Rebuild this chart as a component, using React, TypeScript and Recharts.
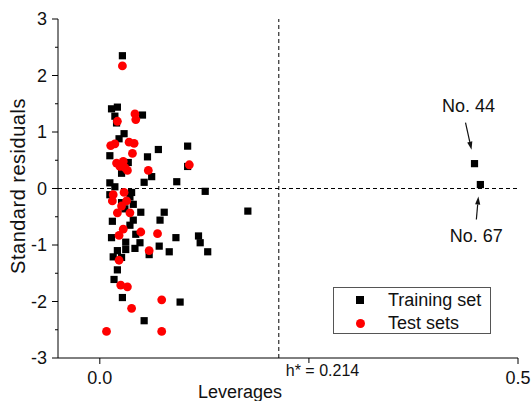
import { ScatterChart, Scatter, XAxis, YAxis, ReferenceLine, ReferenceDot } from 'recharts'

document.body.style.margin = '0'
document.body.style.overflow = 'hidden'

const FONT = "'Liberation Sans', Arial, sans-serif"

// [leverage, standard residual]
const TRAINING_SET: [number, number][] = [
  [0.027, 2.35], [0.014, 1.41], [0.021, 1.44], [0.018, 1.28], [0.02, 1.16],
  [0.051, 1.3], [0.029, 0.97], [0.023, 0.88], [0.07, 0.69], [0.105, 0.75],
  [0.012, 0.58], [0.057, 0.56], [0.034, 0.46], [0.026, 0.27], [0.105, 0.39],
  [0.062, 0.21], [0.053, 0.11], [0.092, 0.12], [0.012, 0.1], [0.018, 0.03],
  [0.126, -0.05], [0.177, -0.4], [0.012, -0.11], [0.038, -0.07], [0.036, -0.15],
  [0.026, -0.25], [0.04, -0.28], [0.03, -0.36], [0.049, -0.42], [0.077, -0.42],
  [0.04, -0.56], [0.072, -0.56], [0.015, -0.58], [0.036, -0.65], [0.014, -0.87],
  [0.043, -0.81], [0.091, -0.87], [0.118, -0.84], [0.031, -0.95], [0.048, -0.96],
  [0.12, -0.96], [0.071, -1.02], [0.042, -1.06], [0.031, -1.08], [0.021, -1.1],
  [0.083, -1.12], [0.129, -1.12], [0.059, -1.17], [0.016, -1.21], [0.026, -1.22],
  [0.021, -1.44], [0.017, -1.61], [0.027, -1.93], [0.096, -2.01], [0.053, -2.34],
  [0.448, 0.44], [0.455, 0.07],
]

const TEST_SETS: [number, number][] = [
  [0.027, 2.17], [0.042, 1.32], [0.043, 1.22], [0.021, 1.19], [0.013, 0.76],
  [0.018, 0.79], [0.035, 0.82], [0.041, 0.8], [0.039, 0.62], [0.02, 0.45],
  [0.028, 0.48], [0.024, 0.39], [0.03, 0.37], [0.033, 0.32], [0.058, 0.32],
  [0.107, 0.42], [0.016, -0.11], [0.029, -0.07], [0.015, -0.22], [0.032, -0.22],
  [0.026, -0.31], [0.021, -0.43], [0.036, -0.43], [0.028, -0.72], [0.023, -0.83],
  [0.049, -0.77], [0.069, -0.8], [0.059, -1.1], [0.023, -1.27], [0.025, -1.71],
  [0.033, -1.74], [0.074, -1.97], [0.038, -2.12], [0.008, -2.53], [0.074, -2.53],
]

const H_STAR = 0.214
const NO_44: [number, number] = [0.448, 0.44]
const NO_67: [number, number] = [0.455, 0.07]

const X_DOMAIN = [-0.05, 0.5]
const Y_DOMAIN = [-3, 3]
const X_TICKS = [0, 0.25, 0.5]
const X_LABELED = [0, 0.5]
const Y_TICKS = [-3, -2.5, -2, -1.5, -1, -0.5, 0, 0.5, 1, 1.5, 2, 2.5, 3]

const SERIES = [
  { name: 'Training set', color: '#000000', data: TRAINING_SET, kind: 'square' },
  { name: 'Test sets', color: '#ff0000', data: TEST_SETS, kind: 'circle' },
]

const toPoints = (rows: [number, number][]) => rows.map(([h, r]) => ({ h, r }))

function Square(props: any) {
  const { cx, cy, fill } = props
  return <rect x={cx - 3.6} y={cy - 3.6} width={7.2} height={7.2} fill={fill} />
}

function Dot(props: any) {
  const { cx, cy, fill } = props
  return <circle cx={cx} cy={cy} r={4.4} fill={fill} />
}

function LeftTick({ x, y, payload }: any) {
  const v = payload.value
  const major = Number.isInteger(v)
  return (
    <g>
      <line x1={x} x2={x - (major ? 6 : 3)} y1={y} y2={y} stroke="#000" />
      {major && (
        <text x={x - 11} y={y} dy="0.36em" textAnchor="end" fontSize={18} fontFamily={FONT} fill="#111">
          {v}
        </text>
      )}
    </g>
  )
}

function RightTick({ x, y }: any) {
  return <line x1={x} x2={x - 5} y1={y} y2={y} stroke="#000" />
}

function TopTick({ x, y }: any) {
  return <line x1={x} x2={x} y1={y} y2={y + 5} stroke="#000" />
}

function BottomTick({ x, y, payload }: any) {
  const v = payload.value
  const labeled = X_LABELED.includes(v)
  return (
    <g>
      <line x1={x} x2={x} y1={y} y2={y + (labeled ? 6 : 5)} stroke="#000" />
      {labeled && (
        <text x={x} y={y + 13} dy="0.71em" textAnchor="middle" fontSize={18} fontFamily={FONT} fill="#111">
          {v.toFixed(1)}
        </text>
      )}
    </g>
  )
}

function arrow(x1: number, y1: number, x2: number, y2: number) {
  const a = Math.atan2(y2 - y1, x2 - x1)
  const len = 8
  const w = 2.6
  const bx = x2 - len * Math.cos(a)
  const by = y2 - len * Math.sin(a)
  const px = -Math.sin(a) * w
  const py = Math.cos(a) * w
  return (
    <g>
      <line x1={x1} y1={y1} x2={bx} y2={by} stroke="#111" strokeWidth={1.2} />
      <polygon points={`${x2},${y2} ${bx + px},${by + py} ${bx - px},${by - py}`} fill="#111" />
    </g>
  )
}

function Note44({ cx, cy }: any) {
  return (
    <g>
      <text x={cx - 6} y={cy - 52} textAnchor="middle" fontSize={18} fontFamily={FONT} fill="#111">No. 44</text>
      {arrow(cx - 9, cy - 41, cx - 3, cy - 14)}
    </g>
  )
}

function Note67({ cx, cy }: any) {
  return (
    <g>
      <text x={cx - 4} y={cy + 57} textAnchor="middle" fontSize={18} fontFamily={FONT} fill="#111">No. 67</text>
      {arrow(cx - 4, cy + 35, cx - 2, cy + 12)}
    </g>
  )
}

function HStarLabel({ viewBox }: any) {
  return (
    <text x={viewBox.x + 7} y={viewBox.y + viewBox.height + 18} fontSize={16} fontFamily={FONT} fill="#111">
      h* = {H_STAR}
    </text>
  )
}

export default function App() {
  return (
    <div style={{ position: 'relative', width: 531, height: 401, background: '#fff' }}>
      <ScatterChart width={531} height={401} margin={{ top: 19, right: 13, bottom: 0, left: 0 }}>
        <XAxis
          xAxisId="b"
          type="number"
          dataKey="h"
          domain={X_DOMAIN}
          ticks={X_TICKS}
          interval={0}
          allowDataOverflow
          height={43}
          tickSize={0}
          tickMargin={0}
          tickLine={false}
          tick={<BottomTick />}
          axisLine={{ stroke: '#000' }}
          label={{
            content: () => (
              <text x={240} y={398} textAnchor="middle" fontSize={18} fontFamily={FONT} fill="#111">Leverages</text>
            ),
          }}
        />
        <XAxis
          xAxisId="t"
          orientation="top"
          type="number"
          domain={X_DOMAIN}
          ticks={X_TICKS}
          interval={0}
          allowDataOverflow
          height={0}
          tickSize={0}
          tickMargin={0}
          tickLine={false}
          tick={<TopTick />}
          axisLine={{ stroke: '#000' }}
        />
        <YAxis
          yAxisId="l"
          type="number"
          dataKey="r"
          domain={Y_DOMAIN}
          ticks={Y_TICKS}
          interval={0}
          allowDataOverflow
          width={58}
          tickSize={0}
          tickMargin={0}
          tickLine={false}
          tick={<LeftTick />}
          axisLine={{ stroke: '#000' }}
          label={{
            content: () => (
              <text
                x={18}
                y={186}
                transform="rotate(-90 18 186)"
                textAnchor="middle"
                dominantBaseline="central"
                fontSize={20}
                letterSpacing={0.5}
                fontFamily={FONT}
                fill="#111"
              >
                Standard residuals
              </text>
            ),
          }}
        />
        <YAxis
          yAxisId="r"
          orientation="right"
          type="number"
          domain={Y_DOMAIN}
          ticks={Y_TICKS}
          interval={0}
          allowDataOverflow
          width={0}
          tickSize={0}
          tickMargin={0}
          tickLine={false}
          tick={<RightTick />}
          axisLine={{ stroke: '#000' }}
        />
        <ReferenceLine xAxisId="b" yAxisId="l" y={0} stroke="#000" strokeDasharray="4 3" />
        <ReferenceLine
          xAxisId="b"
          yAxisId="l"
          x={H_STAR}
          stroke="#000"
          strokeDasharray="4 3"
          label={{ content: HStarLabel }}
        />
        {SERIES.map((s) => (
          <Scatter
            key={s.name}
            name={s.name}
            xAxisId="b"
            yAxisId="l"
            data={toPoints(s.data)}
            fill={s.color}
            shape={s.kind === 'square' ? <Square /> : <Dot />}
            isAnimationActive={false}
          />
        ))}
        <ReferenceDot xAxisId="b" yAxisId="l" x={NO_44[0]} y={NO_44[1]} shape={<Note44 />} />
        <ReferenceDot xAxisId="b" yAxisId="l" x={NO_67[0]} y={NO_67[1]} shape={<Note67 />} />
      </ScatterChart>
      <div
        style={{
          position: 'absolute',
          left: 333,
          top: 287,
          width: 158,
          height: 47,
          boxSizing: 'border-box',
          border: '1px solid #555',
          background: '#fff',
          fontFamily: FONT,
          fontSize: 18,
          color: '#111',
        }}
      >
        {SERIES.map((s, i) => (
          <div
            key={s.name}
            style={{ position: 'absolute', left: 0, top: i === 0 ? 1 : 24, height: 22, display: 'flex', alignItems: 'center' }}
          >
            <span
              style={{
                display: 'inline-block',
                marginLeft: s.kind === 'square' ? 22 : 21.5,
                width: s.kind === 'square' ? 8 : 9,
                height: s.kind === 'square' ? 8 : 9,
                borderRadius: s.kind === 'square' ? 0 : '50%',
                background: s.color,
              }}
            />
            <span style={{ marginLeft: s.kind === 'square' ? 24 : 23.5, lineHeight: '22px' }}>{s.name}</span>
          </div>
        ))}
      </div>
    </div>
  )
}
